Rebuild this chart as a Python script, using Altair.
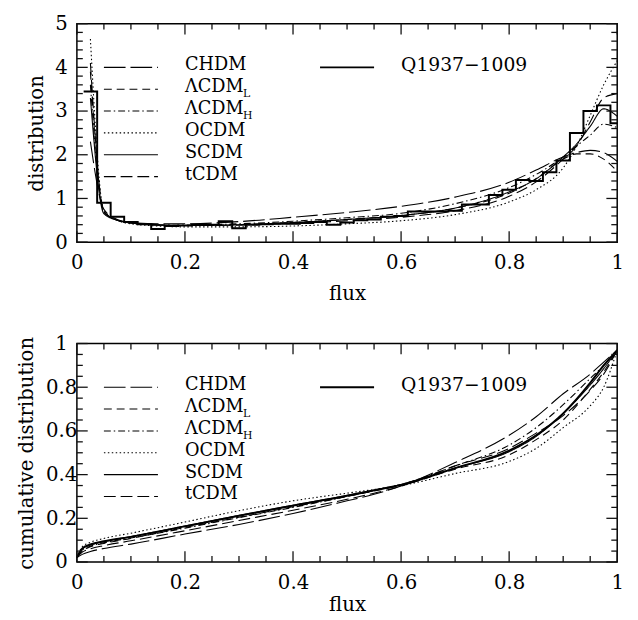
import altair as alt
import pandas as pd

# ---------------- data ----------------
model_keys = ["CHDM", "LCDM_L", "LCDM_H", "OCDM", "SCDM", "tCDM"]
model_names = ["CHDM", "ΛCDM", "ΛCDM", "OCDM", "SCDM", "tCDM"]
model_subs = ["", "L", "H", "", "", ""]
obs_name = "Q1937−1009"

# top panel: flux distribution of the models
dist_x = [0.025, 0.05, 0.075, 0.1, 0.15, 0.2, 0.3, 0.4, 0.5, 0.6, 0.7, 0.8, 0.85, 0.9, 0.925, 0.95, 0.975, 1.0]
dist_CHDM = [2.3, 0.75, 0.52, 0.45, 0.42, 0.42, 0.47, 0.57, 0.68, 0.82, 1.03, 1.37, 1.65, 1.95, 2.05, 2.10, 2.05, 1.85]
dist_LCDM_L = [3.9, 0.70, 0.50, 0.44, 0.40, 0.38, 0.40, 0.45, 0.52, 0.61, 0.78, 1.12, 1.45, 1.90, 2.02, 2.02, 1.90, 1.62]
dist_LCDM_H = [3.6, 0.68, 0.50, 0.44, 0.40, 0.39, 0.42, 0.48, 0.56, 0.66, 0.88, 1.25, 1.55, 1.95, 2.20, 2.45, 2.70, 2.62]
dist_OCDM = [4.65, 0.72, 0.50, 0.42, 0.37, 0.35, 0.35, 0.37, 0.42, 0.49, 0.63, 0.92, 1.20, 1.70, 2.20, 2.90, 3.60, 4.15]
dist_SCDM = [3.3, 0.65, 0.50, 0.44, 0.39, 0.38, 0.40, 0.45, 0.52, 0.61, 0.78, 1.15, 1.45, 1.95, 2.25, 2.65, 3.05, 2.88]
dist_tCDM = [4.1, 0.70, 0.50, 0.44, 0.39, 0.38, 0.39, 0.43, 0.49, 0.57, 0.72, 1.05, 1.38, 1.90, 2.20, 2.75, 3.30, 3.40]

# top panel: observed histogram (left bin edges, last entry is the right end)
hist_edges = [0.0125, 0.0375, 0.0625, 0.0875, 0.1125, 0.1375, 0.1625, 0.1875, 0.2125, 0.2375,
              0.2625, 0.2875, 0.3125, 0.3375, 0.3625, 0.3875, 0.4125, 0.4375, 0.4625, 0.4875,
              0.5125, 0.5375, 0.5625, 0.5875, 0.6125, 0.6375, 0.6625, 0.6875, 0.7125, 0.7375,
              0.7625, 0.7875, 0.8125, 0.8375, 0.8625, 0.8875, 0.9125, 0.9375, 0.9625, 0.9875, 1.0]
hist_vals = [3.45, 0.90, 0.58, 0.46, 0.41, 0.30, 0.37, 0.38, 0.40, 0.40,
             0.48, 0.32, 0.40, 0.41, 0.42, 0.42, 0.44, 0.46, 0.40, 0.45,
             0.50, 0.52, 0.58, 0.60, 0.70, 0.70, 0.70, 0.72, 0.86, 0.86,
             1.08, 1.20, 1.42, 1.40, 1.60, 1.87, 2.50, 3.00, 3.13, 2.72]

# bottom panel: cumulative distributions
cum_x = [0, 0.01, 0.025, 0.05, 0.1, 0.2, 0.3, 0.4, 0.5, 0.55, 0.6, 0.7, 0.8, 0.85, 0.9, 0.95, 0.975, 1.0]
cum_CHDM = [0.02, 0.035, 0.048, 0.062, 0.082, 0.128, 0.172, 0.222, 0.280, 0.310, 0.348, 0.455, 0.580, 0.665, 0.770, 0.860, 0.915, 0.97]
cum_LCDM_L = [0.02, 0.050, 0.070, 0.085, 0.108, 0.158, 0.205, 0.253, 0.300, 0.325, 0.350, 0.425, 0.490, 0.560, 0.650, 0.790, 0.870, 0.97]
cum_LCDM_H = [0.02, 0.055, 0.072, 0.088, 0.110, 0.155, 0.203, 0.250, 0.300, 0.327, 0.355, 0.440, 0.535, 0.615, 0.720, 0.840, 0.900, 0.97]
cum_OCDM = [0.02, 0.070, 0.090, 0.108, 0.132, 0.183, 0.235, 0.280, 0.315, 0.332, 0.350, 0.405, 0.460, 0.520, 0.615, 0.715, 0.800, 0.97]
cum_SCDM = [0.02, 0.060, 0.078, 0.093, 0.117, 0.165, 0.213, 0.260, 0.305, 0.330, 0.355, 0.430, 0.505, 0.575, 0.680, 0.810, 0.885, 0.97]
cum_tCDM = [0.02, 0.045, 0.060, 0.075, 0.097, 0.143, 0.190, 0.237, 0.287, 0.315, 0.347, 0.440, 0.520, 0.590, 0.670, 0.785, 0.860, 0.97]
cum_obs = [0.02, 0.062, 0.080, 0.095, 0.115, 0.163, 0.212, 0.258, 0.303, 0.328, 0.353, 0.430, 0.510, 0.580, 0.680, 0.820, 0.900, 0.97]

# axis ticks / labels
x_major = [0, 0.2, 0.4, 0.6, 0.8, 1.0]
x_minor = [0.05, 0.1, 0.15, 0.25, 0.3, 0.35, 0.45, 0.5, 0.55, 0.65, 0.7, 0.75, 0.85, 0.9, 0.95]
ytop_major = [0, 1, 2, 3, 4, 5]
ytop_minor = [0.2, 0.4, 0.6, 0.8, 1.2, 1.4, 1.6, 1.8, 2.2, 2.4, 2.6, 2.8,
              3.2, 3.4, 3.6, 3.8, 4.2, 4.4, 4.6, 4.8]
ybot_major = [0, 0.2, 0.4, 0.6, 0.8, 1.0]
ybot_minor = [0.05, 0.1, 0.15, 0.25, 0.3, 0.35, 0.45, 0.5, 0.55, 0.65, 0.7, 0.75, 0.85, 0.9, 0.95]

# legend rows (data coordinates)
top_leg_rows = [4.0, 3.5, 3.0, 2.5, 2.0, 1.5]
bot_leg_rows = [0.8, 0.7, 0.6, 0.5, 0.4, 0.3]

# ---------------- styling ----------------
FONT = "DejaVu Serif"
W, H = 549, 222
MAJ, MIN = 11, 6          # tick lengths in pixels
dashes = [[22, 5], [8, 5], [7, 3, 1.5, 3], [1.5, 2.5], [1, 0], [12, 5]]
dash_scale = alt.Scale(domain=model_keys, range=dashes)
XMIN, XMAX = 0.0, 1.0
xscale = alt.Scale(domain=[XMIN, XMAX], nice=False, zero=False)


def long_df(xs, series):
    rows = []
    for key, vals in zip(model_keys, series):
        for xv, yv in zip(xs, vals):
            rows.append({"x": xv, "y": yv, "model": key})
    return pd.DataFrame(rows)


def make_panel(ydom, ytitle, y_major, y_minor, models_df, obs_df, obs_interp, leg_rows, xtitle_pad):
    ymin, ymax = ydom
    yscale = alt.Scale(domain=[ymin, ymax], nice=False, zero=False)
    axX = alt.Axis(values=x_major, format="~g", ticks=False, domain=False, grid=False,
                   labelFlush=False, labelOverlap=False, labelPadding=11,
                   labelFont=FONT, labelFontSize=20, labelColor="black",
                   title="flux", titleFont=FONT, titleFontSize=20, titleFontWeight="normal",
                   titleColor="black", titlePadding=xtitle_pad)
    axY = alt.Axis(values=y_major, format="~g", ticks=False, domain=False, grid=False,
                   labelFlush=False, labelOverlap=False, labelPadding=16, labelAlign="center",
                   labelFont=FONT, labelFontSize=20, labelColor="black",
                   title=ytitle, titleFont=FONT, titleFontSize=20, titleFontWeight="normal",
                   titleColor="black", titlePadding=9)

    X = alt.X("x:Q", scale=xscale, axis=axX)
    Y = alt.Y("y:Q", scale=yscale, axis=axY)

    models = alt.Chart(models_df).mark_line(color="black", strokeWidth=1.1, interpolate="monotone").encode(
        x=X, y=Y,
        strokeDash=alt.StrokeDash("model:N", scale=dash_scale, legend=None),
    )
    obs = alt.Chart(obs_df).mark_line(color="black", strokeWidth=2, interpolate=obs_interp).encode(x=X, y=Y)

    # legend
    leg_df = pd.DataFrame({
        "model": model_keys, "name": model_names, "sub": model_subs,
        "y": leg_rows, "x": [0.05] * 6, "x1": [0.15] * 6, "xt": [0.2] * 6,
    })
    leg_lines = alt.Chart(leg_df).mark_rule(color="black", strokeWidth=1.1).encode(
        x=X, x2="x1:Q", y=Y,
        strokeDash=alt.StrokeDash("model:N", scale=dash_scale, legend=None),
    )
    leg_text = alt.Chart(leg_df).mark_text(align="left", baseline="middle", font=FONT,
                                           fontSize=18, dy=-2, color="black").encode(
        x=alt.X("xt:Q", scale=xscale, axis=axX), y=Y, text="name:N")
    leg_sub = alt.Chart(leg_df).mark_text(align="left", baseline="middle", font=FONT,
                                          fontSize=11, dx=59, dy=5, color="black").encode(
        x=alt.X("xt:Q", scale=xscale, axis=axX), y=Y, text="sub:N")
    obs_leg_df = pd.DataFrame({"x": [0.45], "x1": [0.55], "xt": [0.6], "y": [leg_rows[0]], "name": [obs_name]})
    obs_leg_line = alt.Chart(obs_leg_df).mark_rule(color="black", strokeWidth=2).encode(
        x=X, x2="x1:Q", y=Y)
    obs_leg_text = alt.Chart(obs_leg_df).mark_text(align="left", baseline="middle", font=FONT,
                                                   fontSize=19, dy=-2, color="black").encode(
        x=alt.X("xt:Q", scale=xscale, axis=axX), y=Y, text="name:N")

    # inward ticks on all four sides (tick length converted from pixels to data units)
    def xticks(vals, ln):
        lu = ln * (ymax - ymin) / H
        n = len(vals)
        d = pd.DataFrame({"x": list(vals) * 2,
                          "y": [ymin] * n + [ymax - lu] * n,
                          "y1": [ymin + lu] * n + [ymax] * n})
        return alt.Chart(d).mark_rule(color="#111111", strokeWidth=1.3).encode(x=X, y=Y, y2="y1:Q")

    def yticks(vals, ln):
        lu = ln * (XMAX - XMIN) / W
        n = len(vals)
        d = pd.DataFrame({"y": list(vals) * 2,
                          "x": [XMIN] * n + [XMAX - lu] * n,
                          "x1": [XMIN + lu] * n + [XMAX] * n})
        return alt.Chart(d).mark_rule(color="#111111", strokeWidth=1.3).encode(y=Y, x=X, x2="x1:Q")

    ticks = [xticks(x_major, MAJ), xticks(x_minor, MIN), yticks(y_major, MAJ), yticks(y_minor, MIN)]

    return alt.layer(models, obs, leg_lines, leg_text, leg_sub, obs_leg_line, obs_leg_text, *ticks).properties(
        width=W, height=H)


# top panel
top_models = long_df(dist_x, [dist_CHDM, dist_LCDM_L, dist_LCDM_H, dist_OCDM, dist_SCDM, dist_tCDM])
hist_df = pd.DataFrame({"x": hist_edges, "y": hist_vals + [hist_vals[-1]]})
top = make_panel((0, 5), "distribution", ytop_major, ytop_minor, top_models, hist_df, "step-after",
                 top_leg_rows, 11)

# bottom panel
bot_models = long_df(cum_x, [cum_CHDM, cum_LCDM_L, cum_LCDM_H, cum_OCDM, cum_SCDM, cum_tCDM])
cobs_df = pd.DataFrame({"x": cum_x, "y": cum_obs})
bottom = make_panel((0, 1), "cumulative distribution", ybot_major, ybot_minor, bot_models, cobs_df, "monotone",
                    bot_leg_rows, 2)

chart = alt.vconcat(top, bottom, spacing=29).properties(
    padding={"left": 8, "top": 0, "right": 5, "bottom": 0}
).configure_view(stroke="black", strokeWidth=1.5)

chart.save("out.html", embed_options={"renderer": "svg", "actions": False})
